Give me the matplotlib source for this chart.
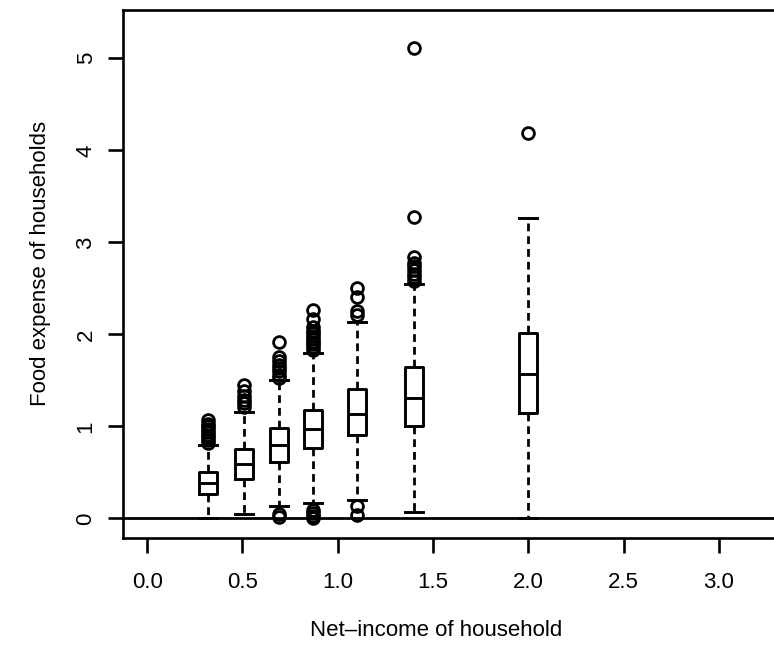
import matplotlib
matplotlib.use("Agg")
import matplotlib.pyplot as plt

plt.rcParams['font.family'] = ['Liberation Sans', 'DejaVu Sans']

## Food expense by net-income class

income = [0.32, 0.51, 0.69, 0.87, 1.10, 1.40, 2.00]   # class midpoints
q1 = [0.27, 0.43, 0.61, 0.76, 0.91, 1.00, 1.15]
med = [0.38, 0.59, 0.80, 0.97, 1.13, 1.31, 1.57]
q3 = [0.50, 0.75, 0.98, 1.18, 1.41, 1.64, 2.01]
whis_lo = [0.00, 0.05, 0.13, 0.17, 0.20, 0.07, 0.00]
whis_hi = [0.80, 1.16, 1.50, 1.80, 2.13, 2.55, 3.26]
outliers = [
    [0.82, 0.85, 0.88, 0.91, 0.94, 0.97, 1.00, 1.03, 1.07],
    [1.21, 1.25, 1.29, 1.33, 1.38, 1.45],
    [0.02, 0.05, 1.53, 1.56, 1.60, 1.63, 1.67, 1.71, 1.75, 1.92],
    [0.00, 0.03, 0.06, 0.09, 1.83, 1.86, 1.89, 1.92, 1.95, 1.98,
     2.01, 2.04, 2.08, 2.17, 2.26],
    [0.04, 0.13, 2.21, 2.25, 2.41, 2.50],
    [2.58, 2.62, 2.66, 2.70, 2.74, 2.78, 2.84, 3.27, 5.11],
    [4.19],
]

xticks = [0.0, 0.5, 1.0, 1.5, 2.0, 2.5, 3.0]
yticks = [0, 1, 2, 3, 4, 5]

stats = []
for i in range(len(income)):
    stats.append(dict(med=med[i], q1=q1[i], q3=q3[i],
                      whislo=whis_lo[i], whishi=whis_hi[i],
                      fliers=outliers[i]))

fig = plt.figure(figsize=(7.74, 6.58), dpi=100)
ax = fig.add_axes([0.1589, 0.1819, 0.8463, 0.8029])

lw = 2.1
ax.axhline(0, color='black', lw=2.0, zorder=1)
ax.bxp(stats, positions=income, widths=0.095, capwidths=0.095,
       manage_ticks=False,
       boxprops=dict(color='black', lw=lw),
       medianprops=dict(color='black', lw=lw),
       whiskerprops=dict(color='black', lw=2.0, linestyle=(0, (2.8, 1.8))),
       capprops=dict(color='black', lw=lw),
       flierprops=dict(marker='o', markerfacecolor='none',
                       markeredgecolor='black', markersize=8.5,
                       markeredgewidth=2.0))

ax.set_xlim(-0.127, 3.31)
ax.set_ylim(-0.217, 5.525)
ax.set_xticks(xticks)
ax.set_xticklabels([f"{v:.1f}" for v in xticks])
ax.set_yticks(yticks)
ax.set_yticklabels([str(v) for v in yticks])

for s in ax.spines.values():
    s.set_linewidth(1.9)

ax.tick_params(axis='both', direction='out', length=11, width=1.9,
               labelsize=16, colors='black')
ax.tick_params(axis='x', pad=13)
ax.tick_params(axis='y', pad=8, labelrotation=90)
for t in ax.get_yticklabels():
    t.set_verticalalignment('center')

ax.set_xlabel("Net\u2013income of household", fontsize=16)
ax.set_ylabel("Food expense of households", fontsize=16)
ax.xaxis.set_label_coords(0.478, -0.155)
ax.yaxis.set_label_coords(-0.11, 0.52)

fig.savefig("out.png", dpi=100)
